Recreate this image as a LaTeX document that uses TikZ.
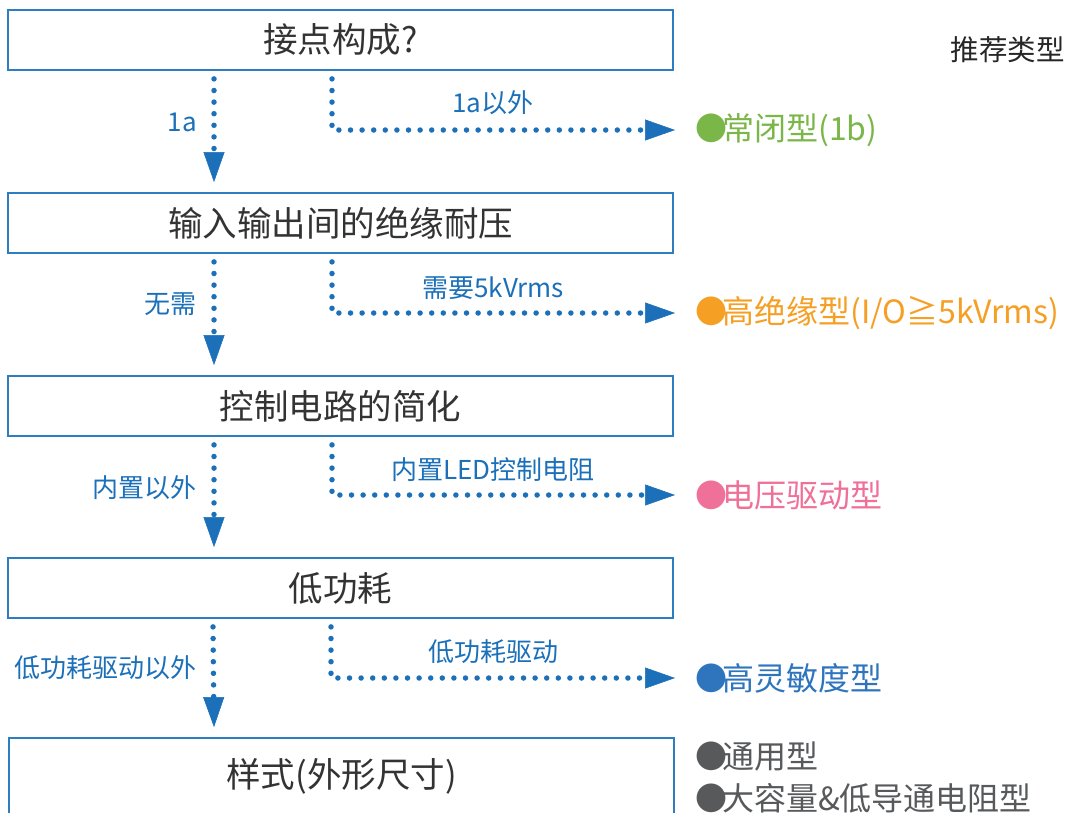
\documentclass[tikz,border=0pt]{standalone}
\usepackage{fontspec}
\setmainfont{Noto Sans CJK SC}
\usetikzlibrary{arrows.meta}
\definecolor{boxblue}{HTML}{2E7DC1}
\definecolor{arrblue}{HTML}{1B70B9}
\definecolor{txtgrey}{HTML}{333333}
\definecolor{rgreen}{HTML}{7AB648}
\definecolor{rorange}{HTML}{F5A024}
\definecolor{rpink}{HTML}{EF7099}
\definecolor{rblue}{HTML}{2E75BE}
\definecolor{rgrey}{HTML}{58595B}
\newcommand{\bul}{●\kern-5pt}
\begin{document}
\begin{tikzpicture}[x=1pt,y=-1pt,
  stepbox/.style={draw=boxblue,line width=1.8pt,minimum width=665pt,minimum height=60pt,inner sep=0pt,font=\fontsize{34.5pt}{40pt}\selectfont,text=txtgrey},
  dotline/.style={arrblue,line width=5.5pt,line cap=round,dash pattern=on 0pt off 11.6pt},
  dotarrow/.style={dotline,-{Triangle[length=30pt,width=21pt,line width=0.5pt]}},
  lbl/.style={text=arrblue,font=\fontsize{26pt}{30pt}\selectfont,inner sep=0pt},
  res/.style={anchor=west,inner sep=0pt,font=\fontsize{32pt}{36pt}\selectfont}]
\clip (0,0) rectangle (1065,812);
\fill[white] (0,0) rectangle (1065,812);

\node[stepbox] (b1) at (340.5,40) {接点构成?};
\node[stepbox] (b2) at (340.5,223) {输入输出间的绝缘耐压};
\node[stepbox] (b3) at (340.5,406) {控制电路的简化};
\node[stepbox] (b4) at (340.5,588) {低功耗};
\node[stepbox,minimum height=76pt] (b5) at (341.5,776) {样式(外形尺寸)};

\node[anchor=east,inner sep=0pt,font=\fontsize{28.5pt}{32pt}\selectfont,text=black!85] (hdr) at (1065,50) {推荐类型};

\node[res,text=rgreen] (r1) at (695,130) {\bul 常闭型(1b)};
\node[res,text=rorange] (r2) at (695,313) {\bul 高绝缘型(I/O≧5kVrms)};
\node[res,text=rpink] (r3) at (695,495) {\bul 电压驱动型};
\node[res,text=rblue] (r4) at (695,678) {\bul 高灵敏度型};
\node[res,text=rgrey] (r5) at (695,757) {\bul 通用型};
\node[res,text=rgrey] (r6) at (695,798) {\bul 大容量\&低导通电阻型};

\node[lbl,anchor=east] (l1a) at (197,122) {1a};
\node[lbl] (l1b) at (493,103) {1a以外};
\node[lbl,anchor=east] (l2a) at (197,304) {无需};
\node[lbl] (l2b) at (493,288) {需要5kVrms};
\node[lbl,anchor=east] (l3a) at (197,488) {内置以外};
\node[lbl] (l3b) at (493,470) {内置LED控制电阻};
\node[lbl,anchor=east] (l4a) at (197,668) {低功耗驱动以外};
\node[lbl] (l4b) at (493,652) {低功耗驱动};

\draw[dotarrow] ([xshift=-126.5pt,yshift=-8pt]b1.south) -- ([xshift=-126.5pt,yshift=10pt]b2.north);
\draw[dotarrow] ([xshift=-126.5pt,yshift=-8pt]b2.south) -- ([xshift=-126.5pt,yshift=10pt]b3.north);
\draw[dotarrow] ([xshift=-126.5pt,yshift=-8pt]b3.south) -- ([xshift=-126.5pt,yshift=10pt]b4.north);
\draw[dotarrow] ([xshift=-127.5pt,yshift=-8pt]b4.south) -- ([xshift=-127.5pt,yshift=10pt]b5.north);

\draw[dotarrow] ([xshift=-8.5pt,yshift=-8pt]b1.south) |- ([xshift=-20pt]r1.west);
\draw[dotarrow] ([xshift=-8.5pt,yshift=-8pt]b2.south) |- ([xshift=-20pt]r2.west);
\draw[dotarrow] ([xshift=-8.5pt,yshift=-8pt]b3.south) |- ([xshift=-20pt]r3.west);
\draw[dotarrow] ([xshift=-9.5pt,yshift=-8pt]b4.south) |- ([xshift=-20pt]r4.west);
\end{tikzpicture}
\end{document}
